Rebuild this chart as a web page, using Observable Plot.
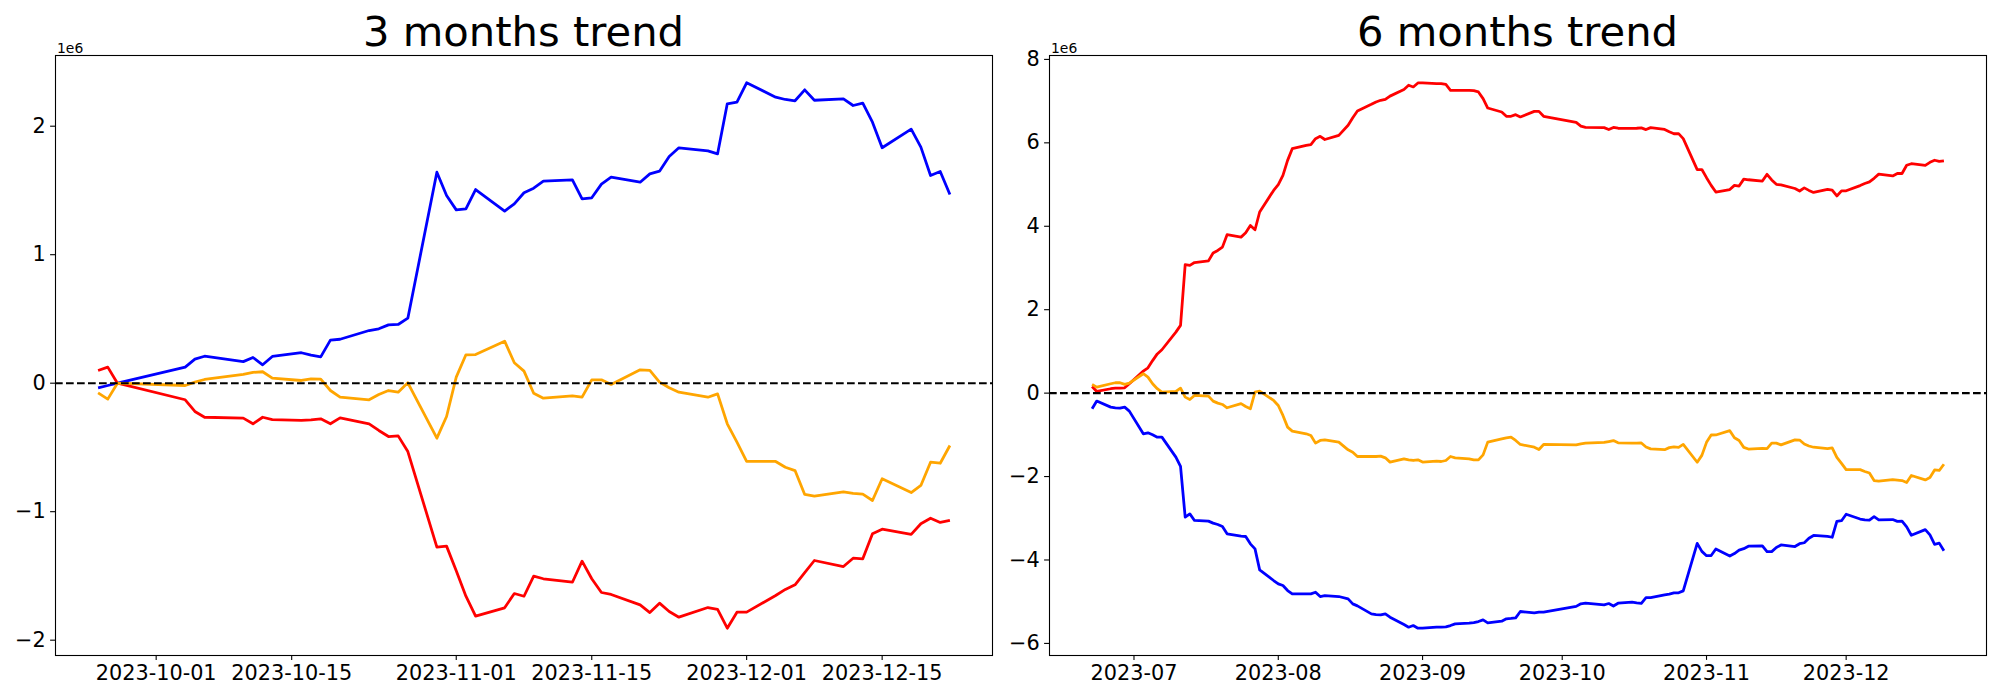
<!DOCTYPE html>
<html>
<head>
<meta charset="utf-8">
<script src="https://cdn.jsdelivr.net/npm/d3@7"></script>
<script src="https://cdn.jsdelivr.net/npm/@observablehq/plot@0.6"></script>
<style>
  html, body { margin: 0; padding: 0; background: #ffffff; }
  #wrap { position: relative; width: 2000px; height: 700px; font-family: "DejaVu Sans", sans-serif; }
  .panel { position: absolute; top: 30px; }
  .title { position: absolute; top: 8px; width: 937px; text-align: center; font-size: 41.7px; line-height: 48px; color: #000; white-space: nowrap; }
</style>
</head>
<body>
<div id="wrap"></div>
<script>
// ---------------- data (values in millions, i.e. 1e6) ----------------
const titles = ["3 months trend", "6 months trend"];
const seriesNames = ["blue", "red", "orange"];
const seriesColors = ["#0000ff", "#ff0000", "#ffa500"];

// 3 months
const dates3m = [
  "2023-09-25","2023-09-26","2023-09-27",
  "2023-10-04","2023-10-05","2023-10-06","2023-10-10","2023-10-11","2023-10-12","2023-10-13",
  "2023-10-16","2023-10-17","2023-10-18","2023-10-19","2023-10-20","2023-10-23","2023-10-24",
  "2023-10-25","2023-10-26","2023-10-27","2023-10-30","2023-10-31",
  "2023-11-01","2023-11-02","2023-11-03","2023-11-06","2023-11-07","2023-11-08","2023-11-09","2023-11-10",
  "2023-11-13","2023-11-14","2023-11-15","2023-11-16","2023-11-17","2023-11-20","2023-11-21","2023-11-22",
  "2023-11-23","2023-11-24","2023-11-27","2023-11-28","2023-11-29","2023-11-30",
  "2023-12-01","2023-12-04","2023-12-05","2023-12-06","2023-12-07","2023-12-08","2023-12-11","2023-12-12",
  "2023-12-13","2023-12-14","2023-12-15","2023-12-18","2023-12-19","2023-12-20","2023-12-21","2023-12-22"
];
const blue3m = [
  -0.036, -0.018, 0.0,
  0.125, 0.187, 0.21, 0.168, 0.2, 0.143, 0.208, 0.237, 0.218, 0.205, 0.335, 0.342, 0.41, 0.423, 0.454, 0.457, 0.506,
  1.642, 1.461,
  1.349, 1.357, 1.507, 1.339, 1.396, 1.482, 1.518, 1.572, 1.583, 1.435, 1.443, 1.549, 1.603, 1.564, 1.629, 1.65,
  1.764, 1.832, 1.808, 1.785, 2.174, 2.187,
  2.338, 2.226, 2.208, 2.198, 2.283, 2.202, 2.213, 2.161, 2.179, 2.031, 1.832, 1.977, 1.837, 1.616, 1.647, 1.468
];
const red3m = [
  0.099, 0.125, 0.0,
  -0.129, -0.22, -0.265, -0.272, -0.316, -0.265, -0.283, -0.29, -0.285, -0.277, -0.316, -0.27, -0.316, -0.368, -0.415, -0.41, -0.532,
  -1.276, -1.268,
  -1.46, -1.658, -1.813, -1.748, -1.637, -1.658, -1.502, -1.522, -1.549, -1.385, -1.522, -1.629, -1.644, -1.725, -1.785, -1.712,
  -1.777, -1.821, -1.746, -1.761, -1.907, -1.782,
  -1.782, -1.652, -1.605, -1.569, -1.475, -1.38, -1.427, -1.362, -1.367, -1.172, -1.136, -1.177, -1.094, -1.051, -1.084, -1.068
];
const orange3m = [
  -0.075, -0.124, 0.0,
  -0.018, 0.008, 0.029, 0.068, 0.084, 0.089, 0.039, 0.021, 0.034, 0.031, -0.057, -0.109, -0.129, -0.088, -0.057, -0.07, 0.003,
  -0.428, -0.259,
  0.047, 0.221, 0.223, 0.327, 0.159, 0.094, -0.078, -0.117, -0.098, -0.109, 0.026, 0.026, -0.01, 0.104, 0.099, 0.008,
  -0.036, -0.07, -0.109, -0.083, -0.316, -0.459,
  -0.609, -0.609, -0.654, -0.68, -0.866, -0.879, -0.845, -0.858, -0.864, -0.913, -0.744, -0.851, -0.796, -0.615, -0.623, -0.485
];

// 6 months
const dates6m = [
  "2023-06-22","2023-06-23","2023-06-26","2023-06-27","2023-06-28","2023-06-29","2023-06-30",
  "2023-07-03","2023-07-04","2023-07-05","2023-07-06","2023-07-07","2023-07-10","2023-07-11","2023-07-12","2023-07-13","2023-07-14",
  "2023-07-17","2023-07-18","2023-07-19","2023-07-20","2023-07-21","2023-07-24","2023-07-25","2023-07-26","2023-07-27","2023-07-28","2023-07-31",
  "2023-08-01","2023-08-02","2023-08-03","2023-08-04","2023-08-07","2023-08-08","2023-08-09","2023-08-10","2023-08-11","2023-08-14",
  "2023-08-16","2023-08-17","2023-08-18","2023-08-21","2023-08-22","2023-08-23","2023-08-24","2023-08-25","2023-08-28","2023-08-29","2023-08-30","2023-08-31",
  "2023-09-01","2023-09-04","2023-09-05","2023-09-06","2023-09-07","2023-09-08","2023-09-11","2023-09-12","2023-09-13","2023-09-14","2023-09-15",
  "2023-09-18","2023-09-19","2023-09-20","2023-09-21","2023-09-22","2023-09-25","2023-09-26","2023-09-27",
  "2023-10-04","2023-10-05","2023-10-06","2023-10-10","2023-10-11","2023-10-12","2023-10-13","2023-10-16","2023-10-17","2023-10-18","2023-10-19","2023-10-20",
  "2023-10-23","2023-10-24","2023-10-25","2023-10-26","2023-10-27","2023-10-30","2023-10-31",
  "2023-11-01","2023-11-02","2023-11-03","2023-11-06","2023-11-07","2023-11-08","2023-11-09","2023-11-10","2023-11-13","2023-11-14","2023-11-15","2023-11-16","2023-11-17",
  "2023-11-20","2023-11-21","2023-11-22","2023-11-23","2023-11-24","2023-11-27","2023-11-28","2023-11-29","2023-11-30",
  "2023-12-01","2023-12-04","2023-12-05","2023-12-06","2023-12-07","2023-12-08","2023-12-11","2023-12-12","2023-12-13","2023-12-14","2023-12-15",
  "2023-12-18","2023-12-19","2023-12-20","2023-12-21","2023-12-22"
];
const blue6m = [
  -0.375, -0.191, -0.336, -0.351, -0.359, -0.336, -0.431,
  -0.975, -0.951, -0.999, -1.055, -1.055, -1.535, -1.758, -2.975, -2.894, -3.053, -3.069, -3.117, -3.149, -3.197, -3.373, -3.429, -3.437, -3.613, -3.733, -4.236, -4.492,
  -4.572, -4.612, -4.732, -4.812, -4.812, -4.812, -4.772, -4.876, -4.852, -4.876, -4.932, -5.052, -5.1, -5.292, -5.308, -5.316, -5.292, -5.372, -5.548, -5.612, -5.572, -5.636,
  -5.636, -5.612, -5.612, -5.604, -5.572, -5.532, -5.516, -5.5, -5.476, -5.436, -5.508, -5.468, -5.41, -5.40, -5.386, -5.235, -5.267, -5.251, -5.251,
  -5.113, -5.05, -5.035, -5.075, -5.044, -5.104, -5.036, -5.012, -5.03, -5.04, -4.904, -4.9, -4.835, -4.82, -4.79, -4.787, -4.74, -3.603, -3.794,
  -3.897, -3.893, -3.738, -3.906, -3.846, -3.763, -3.729, -3.67, -3.66, -3.80, -3.80, -3.70, -3.64, -3.678, -3.61, -3.587, -3.478, -3.412, -3.432, -3.455, -3.073, -3.058,
  -2.903, -3.019, -3.04, -3.045, -2.962, -3.039, -3.03, -3.075, -3.066, -3.208, -3.408, -3.272, -3.40, -3.624, -3.596, -3.778
];
const red6m = [
  0.16, 0.04, 0.105, 0.12, 0.12, 0.128, 0.225,
  0.528, 0.607, 0.78, 0.94, 1.04, 1.463, 1.624, 3.079, 3.063, 3.13, 3.17, 3.36, 3.42, 3.50, 3.797, 3.74, 3.844, 4.02, 3.917, 4.342, 4.86,
  4.996, 5.22, 5.58, 5.859, 5.94, 5.96, 6.10, 6.156, 6.08, 6.18, 6.42, 6.60, 6.763, 6.923, 6.98, 7.02, 7.04, 7.12, 7.28, 7.38, 7.34, 7.435,
  7.44, 7.42, 7.42, 7.40, 7.26, 7.26, 7.26, 7.25, 7.22, 7.06, 6.835, 6.74, 6.636, 6.636, 6.676, 6.62, 6.754, 6.754, 6.636,
  6.49, 6.40, 6.37, 6.364, 6.32, 6.37, 6.35, 6.346, 6.35, 6.358, 6.318, 6.365, 6.32, 6.265, 6.218, 6.22, 6.10, 5.358, 5.36,
  5.165, 4.98, 4.82, 4.88, 4.98, 4.965, 5.13, 5.115, 5.085, 5.245, 5.11, 5.005, 4.99, 4.905, 4.845, 4.92, 4.86, 4.81, 4.885, 4.868, 4.727, 4.85,
  4.85, 4.975, 5.025, 5.063, 5.15, 5.25, 5.206, 5.267, 5.265, 5.462, 5.5, 5.46, 5.533, 5.583, 5.554, 5.566
];
const orange6m = [
  0.209, 0.144, 0.225, 0.249, 0.249, 0.209, 0.241,
  0.465, 0.384, 0.225, 0.105, 0.024, 0.04, 0.12, -0.096, -0.152, -0.056, -0.072, -0.192, -0.24, -0.272, -0.351, -0.25, -0.32, -0.375, 0.024, 0.05, -0.176,
  -0.296, -0.535, -0.815, -0.911, -0.975, -1.015, -1.199, -1.135, -1.119, -1.175, -1.359, -1.415, -1.519, -1.519, -1.519, -1.51, -1.551, -1.654, -1.575, -1.599, -1.615, -1.60,
  -1.654, -1.631, -1.639, -1.615, -1.519, -1.551, -1.575, -1.599, -1.599, -1.48, -1.175, -1.095, -1.071, -1.055, -1.135, -1.231, -1.295, -1.351, -1.231,
  -1.243, -1.218, -1.20, -1.18, -1.16, -1.138, -1.191, -1.20, -1.197, -1.195, -1.291, -1.337, -1.355, -1.306, -1.29, -1.30, -1.23, -1.657, -1.492,
  -1.18, -1.004, -1.003, -0.90, -1.071, -1.136, -1.30, -1.34, -1.323, -1.33, -1.20, -1.20, -1.24, -1.12, -1.125, -1.22, -1.268, -1.297, -1.33, -1.312, -1.54, -1.684,
  -1.835, -1.835, -1.878, -1.915, -2.095, -2.11, -2.073, -2.083, -2.095, -2.143, -1.975, -2.08, -2.025, -1.842, -1.854, -1.705
];

// tick values
const xTicks3m = ["2023-10-01","2023-10-15","2023-11-01","2023-11-15","2023-12-01","2023-12-15"];
const xTicks6m = ["2023-07-01","2023-08-01","2023-09-01","2023-10-01","2023-11-01","2023-12-01"];
const yTicks3m = [-2, -1, 0, 1, 2];
const yTicks6m = [-6, -4, -2, 0, 2, 4, 6, 8];
const offsetLabel = "1e6";

// ---------------- drawing ----------------
const parse = d3.utcParse("%Y-%m-%d");

function pad(ext, f) {
  const s = ext[1] - ext[0];
  return [ext[0] - f * s, ext[1] + f * s];
}

function panel({dates, values, xTicks, xFormat, yTicks, marginLeft, marginRight}) {
  const rows = [];
  values.forEach((vals, k) => vals.forEach((v, i) => rows.push({date: parse(dates[i]), value: v, name: seriesNames[k]})));
  const xExt = d3.extent(rows, d => d.date).map(d => +d);
  const xd = pad(xExt, 0.05).map(t => new Date(t));
  const yd = pad(d3.extent(rows, d => d.value), 0.05);
  const xt = xTicks.map(parse);
  return Plot.plot({
    width: 1000,
    height: 670,
    marginTop: 25,
    marginBottom: 45,
    marginLeft,
    marginRight,
    style: {fontFamily: "DejaVu Sans, sans-serif", fontSize: "20.8px", color: "#000", background: "transparent", overflow: "visible"},
    x: {type: "utc", domain: xd},
    y: {type: "linear", domain: yd},
    marks: [
      Plot.axisX({ticks: xt, tickFormat: d3.utcFormat(xFormat), tickSize: 4.9, tickPadding: 4.9, strokeWidth: 1.1, label: null, fontSize: 20.8}),
      Plot.axisY({ticks: yTicks, tickFormat: d3.format("d"), tickSize: 4.9, tickPadding: 4.9, strokeWidth: 1.1, label: null, fontSize: 20.8}),
      ...seriesNames.map((n, k) => Plot.line(rows.filter(r => r.name === n), {
        x: "date", y: "value", stroke: seriesColors[k], strokeWidth: 2.78, strokeLinejoin: "round", strokeLinecap: "butt"
      })),
      Plot.ruleY([0], {stroke: "#000", strokeWidth: 2.08, strokeDasharray: "7.7,3.3"}),
      Plot.frame({stroke: "#000", strokeWidth: 1.1}),
      Plot.text([offsetLabel], {text: d => d, frameAnchor: "top-left", textAnchor: "start", lineAnchor: "bottom", dx: 1.5, dy: -3, fontSize: 13.9, fill: "#000"})
    ]
  });
}

const wrap = document.getElementById("wrap");

const left = document.createElement("div");
left.className = "panel";
left.style.left = "0px";
left.appendChild(panel({dates: dates3m, values: [blue3m, red3m, orange3m], xTicks: xTicks3m, xFormat: "%Y-%m-%d", yTicks: yTicks3m, marginLeft: 55, marginRight: 8}));
wrap.appendChild(left);

const right = document.createElement("div");
right.className = "panel";
right.style.left = "1000px";
right.appendChild(panel({dates: dates6m, values: [blue6m, red6m, orange6m], xTicks: xTicks6m, xFormat: "%Y-%m", yTicks: yTicks6m, marginLeft: 49, marginRight: 14}));
wrap.appendChild(right);

[[titles[0], 55], [titles[1], 1049]].forEach(([t, x]) => {
  const d = document.createElement("div");
  d.className = "title";
  d.style.left = x + "px";
  d.textContent = t;
  wrap.appendChild(d);
});
</script>
</body>
</html>
